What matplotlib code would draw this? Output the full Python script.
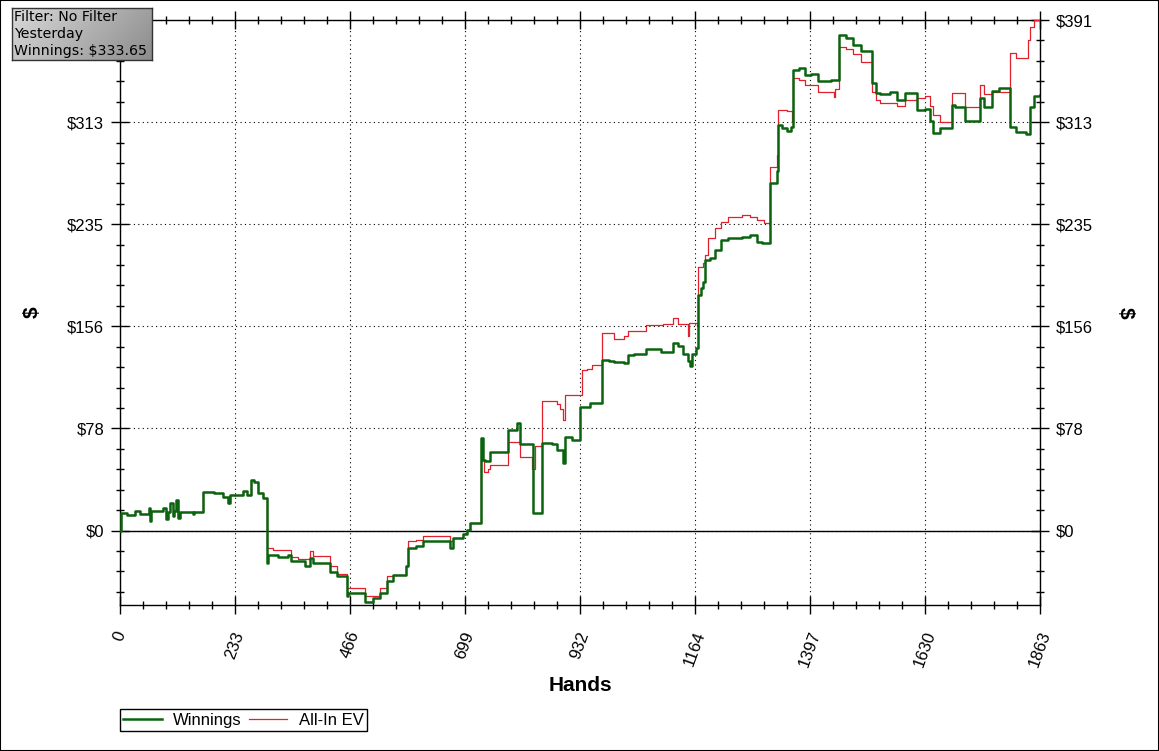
import numpy as np
import matplotlib
matplotlib.use("Agg")
import matplotlib.pyplot as plt
from matplotlib.patches import Rectangle

# --- DATA (hand number, cumulative $) ---
WIN_HANDS = [0, 2, 15, 30, 40, 59, 61, 63, 88, 94, 97, 101, 107, 110, 114, 118, 121, 147, 150,
             168, 190, 209, 219, 222, 250, 258, 266, 272, 280, 290, 297, 300, 320, 340, 347, 374,
             385, 391, 425, 440, 459, 462, 496, 513, 526, 540, 553, 580, 584, 600, 614, 661, 668,
             675, 695, 702, 709, 732, 735, 740, 749, 786, 803, 810, 837, 854, 875, 884, 897, 901,
             915, 931, 951, 977, 990, 1000, 1020, 1029, 1040, 1066, 1095, 1120, 1130, 1140, 1150,
             1155, 1158, 1166, 1171, 1176, 1180, 1185, 1195, 1205, 1218, 1232, 1260, 1275, 1289,
             1300, 1316, 1330, 1333, 1340, 1350, 1358, 1363, 1375, 1387, 1400, 1414, 1440, 1455,
             1470, 1485, 1500, 1522, 1530, 1539, 1560, 1573, 1590, 1613, 1630, 1640, 1647, 1660,
             1684, 1690, 1711, 1741, 1750, 1765, 1780, 1802, 1815, 1835, 1843, 1850, 1863]
WIN_VALUES = [0, 13.5, 12, 14.8, 12.5, 17.6, 7.6, 15, 17, 9, 14, 21, 11, 14.8, 23.7, 10, 14.5, 12.5,
              14.5, 29.3, 28.5, 26, 21.4, 27, 30, 27, 39, 37, 29, 25, -24.6, -18.4, -20, -18.4,
              -23.5, -27, -21, -24.7, -32, -35, -50, -47.6, -55, -52, -47.6, -38.8, -33.7, -27, -13,
              -12, -8.2, -8.2, -13, -5.4, -3, 0.8, 6, 71, 54, 53, 60, 77, 82.6, 66, 13.5, 67, 66,
              62, 52, 72, 69, 95, 98, 131, 130, 129, 128, 134.7, 135.4, 139, 137, 143.6, 141, 135,
              130, 126, 135, 140, 180.6, 186, 190, 207, 209, 215, 222.6, 224, 225, 226, 221, 220,
              266, 275, 310.6, 308, 306, 309, 352.7, 354, 349, 350, 344, 345, 379.5, 377, 372, 367,
              342.8, 335, 334, 336, 330, 335, 322, 323, 314, 304.5, 308, 326, 324, 314, 331, 324,
              337, 339, 309, 305.6, 304, 324.7, 333, 333.65]

EV_HANDS = [0, 2, 15, 30, 40, 59, 61, 63, 88, 94, 97, 101, 107, 110, 114, 118, 121, 147, 150,
            168, 190, 209, 219, 222, 250, 258, 266, 272, 280, 290, 297, 310, 347, 360, 384, 391,
            425, 440, 459, 496, 526, 540, 553, 580, 584, 600, 614, 661, 668, 675, 695, 702, 709,
            732, 738, 745, 749, 786, 805, 810, 830, 835, 840, 854, 884, 890, 897, 901, 935, 945,
            955, 977, 990, 1000, 1020, 1029, 1040, 1066, 1100, 1120, 1130, 1150, 1153, 1168, 1171,
            1180, 1185, 1190, 1205, 1218, 1232, 1260, 1275, 1289, 1305, 1316, 1330, 1333, 1350,
            1360, 1363, 1375, 1387, 1414, 1440, 1445, 1448, 1455, 1470, 1485, 1500, 1522, 1530,
            1539, 1573, 1590, 1613, 1630, 1640, 1647, 1660, 1684, 1711, 1741, 1750, 1765, 1802,
            1815, 1835, 1838, 1843, 1850, 1863]
EV_VALUES = [0, 13.5, 12, 14.8, 12.5, 17.6, 7.6, 15, 17, 9, 14, 21, 11, 14.8, 23.7, 10, 14.5, 12.5,
             14.5, 29.3, 28.5, 26, 21.4, 27, 30, 27, 39, 37, 29, 25, -13, -14.5, -20, -22, -16,
             -19.6, -27, -33, -43.6, -50, -43.6, -35, -33.7, -27, -8, -7, -4.3, -4.3, -8, -6, -3,
             0.8, 6, 54, 45, 47, 50, 68, 68, 56, 56, 47, 64.5, 99, 97, 93, 85, 104, 123, 124, 127,
             151.5, 151, 147, 149, 152.5, 153, 157.6, 158, 163, 158, 148.7, 159, 157, 202, 205,
             211, 224, 232, 236.5, 240.5, 242, 240, 238, 235.6, 278.7, 287.7, 322, 321, 313, 346.6,
             345, 341, 336, 336, 332, 338, 370.6, 368.8, 365, 359, 336, 330, 327.5, 325, 330, 331,
             333, 325, 318, 313, 335, 324.7, 341, 334, 336, 365.7, 362, 362, 375.7, 386, 391, 391]

FILTER_LINES = ["Filter: No Filter", "Yesterday", "Winnings: $333.65"]
X_MAX = 1863
Y_MAX = 391
Y_MIN = -57

GREEN = "#0a640f"
RED = "#e0202c"
LABEL_FONT = ["Liberation Sans", "DejaVu Sans"]

fig = plt.figure(figsize=(11.59, 7.51), dpi=100)
ax = fig.add_axes([120 / 1159, 1 - 605 / 751, 920 / 1159, 585 / 751])

# --- Lines ---
ax.plot(EV_HANDS, EV_VALUES, drawstyle="steps-post", color=RED, lw=0.9, label="All-In EV", zorder=3)
ax.plot(WIN_HANDS, WIN_VALUES, drawstyle="steps-post", color=GREEN, lw=1.8, label="Winnings", zorder=4)
ax.axhline(0, color="black", lw=1, zorder=2)

ax.set_xlim(0, X_MAX)
ax.set_ylim(Y_MIN, Y_MAX)

# --- Ticks ---
xmaj = np.linspace(0, X_MAX, 9)
ax.set_xticks(xmaj)
ax.set_xticklabels([f"{int(round(v + 1e-9))}" for v in xmaj], rotation=70, ha="center",
                   family=LABEL_FONT, fontsize=12)
ax.set_xticks(np.linspace(0, X_MAX, 41), minor=True)

ymaj = np.linspace(0, Y_MAX, 6)
step = Y_MAX / 25
ymin_ticks = np.arange(-3, 26) * step
ax.set_yticks(ymaj)
ax.set_yticklabels([f"${v:.0f}" for v in ymaj], family=LABEL_FONT, fontsize=12)
ax.set_yticks(ymin_ticks[ymin_ticks >= Y_MIN], minor=True)

ax.tick_params(axis="both", which="major", direction="inout", length=13, width=1, color="black")
ax.tick_params(axis="both", which="minor", direction="inout", length=6, width=1, color="black")
ax.tick_params(axis="x", which="both", top=True, pad=11)
ax.tick_params(axis="y", which="both", right=True, labelright=True, pad=5)
for s in ax.spines.values():
    s.set_color("black")
    s.set_linewidth(1)

# left top label sits under the filter box in the original
ax.yaxis.get_major_ticks()[-1].label1.set_visible(False)

ax.grid(True, which="major", color="black", linestyle=(0, (1, 3)), lw=0.8)

# --- Axis labels ---
ax.set_xlabel("Hands", family=LABEL_FONT, fontsize=15, fontweight="bold")
ax.xaxis.set_label_coords(0.5, -0.122)
ax.text(-0.095, 0.5, "$", transform=ax.transAxes, rotation=90, ha="center", va="center",
        family=LABEL_FONT, fontsize=15, fontweight="bold")
ax.text(1.093, 0.5, "$", transform=ax.transAxes, rotation=270, ha="center", va="center",
        family=LABEL_FONT, fontsize=15, fontweight="bold")

# --- Legend ---
handles, labels = ax.get_legend_handles_labels()
leg = fig.legend(handles[::-1], labels[::-1], loc="lower left", ncol=2,
                 bbox_to_anchor=(120 / 1159, 1 - 731 / 751), bbox_transform=fig.transFigure,
                 borderaxespad=0, fancybox=False, edgecolor="black", framealpha=1,
                 prop={"family": LABEL_FONT, "size": 12}, handlelength=2.3, columnspacing=0.4,
                 handletextpad=0.7, borderpad=0.2)
leg.get_frame().set_linewidth(1)

# --- Filter box (gradient) ---
bx = fig.add_axes([12 / 1159, 1 - 60 / 751, 140 / 1159, 52 / 751])
gx, gy = np.meshgrid(np.linspace(0, 1, 100), np.linspace(0, 1, 40))
grad = 0.85 - 0.3 * (0.75 * gx + 0.25 * gy)
bx.imshow(grad, cmap="gray", vmin=0, vmax=1, aspect="auto", extent=(0, 1, 0, 1), origin="upper")
bx.set_xticks([])
bx.set_yticks([])
for s in bx.spines.values():
    s.set_color("#333333")
    s.set_linewidth(1)
bx.text(0.015, 0.5, "\n".join(FILTER_LINES), transform=bx.transAxes, ha="left", va="center",
        family="DejaVu Sans", fontsize=10.2, linespacing=1.25, color="black")

# outer frame around the whole image
fig.patches.append(Rectangle((0, 0), 1, 1, transform=fig.transFigure, fill=False,
                             edgecolor="black", lw=1.5))

fig.savefig("out.png", dpi=100)
